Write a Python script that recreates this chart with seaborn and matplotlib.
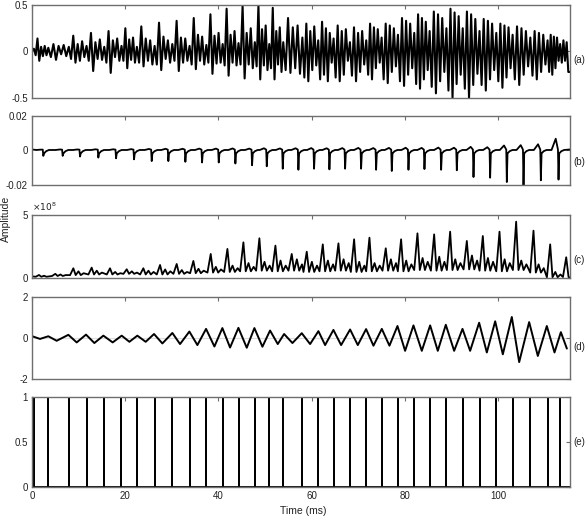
# %%
import numpy as np
import pandas as pd
import matplotlib
matplotlib.use("Agg")
import matplotlib.pyplot as plt
import seaborn as sns

# %% values
x_end = 115.4

# (e) pulse train, ms
pulses = [0.4, 3.5, 7.9, 11.7, 15.5, 19.2, 22.5, 26.3, 30.1, 33.8, 37.4, 40.9, 44.3, 47.8,
          50.9, 53.9, 58.0, 61.4, 64.7, 68.2, 71.7, 75.0, 78.5, 82.0, 85.3, 88.9, 92.4, 96.0,
          99.6, 103.1, 106.9, 110.6, 113.3]

# (a) waveform extrema, one list per pitch period
a_periods = [
    [0.03, -0.04, 0.14, -0.10, 0.05, -0.05, 0.06, -0.04],
    [0.04, -0.06, 0.08, -0.09, 0.06, -0.03, 0.07, -0.05],
    [0.05, -0.08, 0.17, -0.12, 0.08, -0.10, 0.11, -0.06],
    [0.06, -0.10, 0.20, -0.21, 0.10, -0.08, 0.13, -0.09],
    [0.05, -0.12, 0.22, -0.23, 0.12, -0.06, 0.14, -0.10],
    [0.06, -0.10, 0.25, -0.18, 0.13, -0.09, 0.15, -0.12],
    [0.05, -0.12, 0.27, -0.16, 0.14, -0.10, 0.12, -0.14],
    [0.06, -0.14, 0.31, -0.20, 0.16, -0.08, 0.12, -0.12],
    [0.08, -0.10, 0.33, -0.21, 0.15, -0.12, 0.14, -0.10],
    [0.06, -0.14, 0.36, -0.19, 0.18, -0.10, 0.16, -0.14],
    [0.07, -0.12, 0.40, -0.24, 0.17, -0.13, 0.20, -0.12],
    [0.08, -0.15, 0.46, -0.26, 0.18, -0.12, 0.22, -0.15],
    [0.09, -0.14, 0.49, -0.29, 0.20, -0.14, 0.25, -0.18],
    [0.10, -0.16, 0.50, -0.30, 0.24, -0.15, 0.28, -0.20],
    [0.08, -0.18, 0.47, -0.30, 0.22, -0.14, 0.26, -0.22],
    [0.10, -0.20, 0.36, -0.23, 0.26, -0.18, 0.28, -0.24],
    [0.15, -0.28, 0.30, -0.32, 0.22, -0.20, 0.27, -0.15],
    [0.12, -0.30, 0.32, -0.25, 0.25, -0.32, 0.20, -0.12],
    [0.14, -0.28, 0.28, -0.32, 0.22, -0.25, 0.24, -0.10],
    [0.10, -0.26, 0.26, -0.32, 0.20, -0.22, 0.22, -0.14],
    [0.12, -0.25, 0.30, -0.30, 0.26, -0.18, 0.24, -0.12],
    [0.15, -0.30, 0.30, -0.34, 0.28, -0.22, 0.25, -0.16],
    [0.18, -0.32, 0.36, -0.37, 0.33, -0.25, 0.30, -0.18],
    [0.20, -0.35, 0.40, -0.40, 0.36, -0.30, 0.32, -0.20],
    [0.22, -0.38, 0.43, -0.45, 0.40, -0.32, 0.36, -0.22],
    [0.25, -0.42, 0.46, -0.50, 0.42, -0.35, 0.38, -0.25],
    [0.25, -0.40, 0.43, -0.50, 0.40, -0.36, 0.35, -0.24],
    [0.22, -0.36, 0.35, -0.42, 0.33, -0.30, 0.30, -0.20],
    [0.20, -0.32, 0.30, -0.39, 0.28, -0.28, 0.26, -0.18],
    [0.18, -0.30, 0.27, -0.36, 0.25, -0.25, 0.22, -0.16],
    [0.15, -0.26, 0.22, -0.30, 0.20, -0.22, 0.18, -0.14],
    [0.12, -0.22, 0.18, -0.25, 0.16, -0.18, 0.15, -0.10],
    [0.08, -0.12, 0.12, -0.10, 0.10, -0.22],
]

# (b) negative spikes: time, depth, small positive bump before each
b_t = [2.43, 6.58, 10.30, 14.23, 18.03, 21.89, 25.68, 29.25, 32.90, 36.48, 40.06, 43.63,
       47.21, 50.36, 53.79, 57.15, 60.51, 63.80, 67.17, 70.60, 73.82, 77.18, 80.76, 84.19,
       87.77, 91.13, 94.71, 98.28, 101.86, 105.44, 109.16, 112.95]
b_depth = [-0.0032, -0.0032, -0.0036, -0.0042, -0.0046, -0.0052, -0.0062, -0.0062, -0.0066,
           -0.0070, -0.0070, -0.0076, -0.0086, -0.0092, -0.0106, -0.0112, -0.0106, -0.0110,
           -0.0106, -0.0106, -0.0112, -0.0119, -0.0112, -0.0108, -0.0112, -0.0115, -0.0154,
           -0.0158, -0.0183, -0.0202, -0.0173, -0.0169]
b_bump = [0.0004, 0.0005, 0.0005, 0.0006, 0.0006, 0.0007, 0.0008, 0.0009, 0.0009, 0.0010,
          0.0010, 0.0011, 0.0010, 0.0012, 0.0011, 0.0012, 0.0013, 0.0012, 0.0013, 0.0014,
          0.0013, 0.0014, 0.0015, 0.0014, 0.0016, 0.0015, 0.0020, 0.0018, 0.0028, 0.0030,
          0.0035, 0.0067]

# (c) x1e8: peak time, peak, trough, secondary bumps
c_t = [1.5, 5.0, 8.87, 12.8, 16.74, 20.32, 23.89, 27.47, 31.04, 34.62, 38.34, 41.92, 45.35,
       48.78, 52.22, 55.72, 58.94, 62.38, 65.74, 69.10, 72.39, 75.89, 79.18, 82.69, 86.27,
       89.70, 93.28, 96.71, 100.29, 103.86, 107.58, 111.16, 114.6]
c_peak = [0.26, 0.35, 0.79, 0.84, 0.79, 0.71, 0.79, 1.05, 1.13, 1.37, 1.92, 2.32, 2.84, 3.16,
          2.58, 1.92, 2.10, 2.68, 2.76, 3.08, 3.21, 2.37, 3.08, 3.55, 3.47, 3.68, 2.95, 3.34,
          3.68, 4.47, 3.76, 2.68, 1.66]
c_low = [0.12, 0.18, 0.25, 0.30, 0.30, 0.35, 0.30, 0.30, 0.35, 0.40, 0.45, 0.50, 0.55, 0.60,
         0.55, 0.60, 0.50, 0.55, 0.60, 0.50, 0.55, 0.60, 0.55, 0.65, 0.60, 0.65, 0.70, 0.60,
         0.55, 0.65, 0.45, 0.08, 0.10]
c_mid = [0.20, 0.30, 0.55, 0.60, 0.50, 0.55, 0.60, 0.70, 0.65, 0.75, 0.90, 1.00, 1.20, 1.30,
         1.40, 1.50, 1.30, 1.40, 1.50, 1.30, 1.20, 1.50, 1.40, 1.60, 1.70, 1.50, 1.80, 1.60,
         1.50, 1.40, 1.10, 0.50, 0.00]
c_mid2 = [0.15, 0.25, 0.40, 0.45, 0.40, 0.45, 0.50, 0.55, 0.50, 0.60, 0.70, 0.80, 0.90, 1.00,
          1.00, 1.10, 1.00, 1.10, 1.20, 1.00, 1.00, 1.20, 1.10, 1.30, 1.30, 1.20, 1.40, 1.30,
          1.20, 1.10, 0.80, 0.30, 0.00]

# (d) extrema of the filtered signal
d_t = [0.07, 1.72, 3.5, 5.29, 7.80, 9.59, 11.59, 13.38, 15.31, 17.31, 19.24, 20.89, 22.60,
       24.39, 26.18, 27.97, 30.11, 31.76, 33.76, 35.48, 37.34, 39.13, 40.84, 42.49, 44.28,
       46.07, 47.71, 49.43, 51.07, 52.72, 54.08, 55.87, 57.87, 59.66, 61.44, 62.88, 64.66,
       66.31, 68.24, 69.89, 71.67, 73.25, 75.04, 76.68, 78.40, 80.04, 81.83, 83.62, 85.41,
       87.05, 88.77, 90.56, 92.35, 93.99, 95.92, 97.57, 99.36, 101.0, 102.93, 104.51, 106.65,
       108.51, 110.44, 112.09, 113.45, 114.74]
d_v = [0.10, -0.03, 0.10, -0.12, 0.17, -0.20, 0.18, -0.23, 0.13, -0.20, 0.13, -0.17, 0.13,
       -0.17, 0.21, -0.25, 0.26, -0.28, 0.33, -0.33, 0.46, -0.40, 0.50, -0.45, 0.51, -0.46,
       0.50, -0.41, 0.38, -0.28, 0.21, -0.23, 0.25, -0.28, 0.35, -0.33, 0.41, -0.33, 0.43,
       -0.33, 0.45, -0.36, 0.46, -0.36, 0.60, -0.61, 0.63, -0.61, 0.63, -0.61, 0.66, -0.61,
       0.46, -0.61, 0.76, -0.69, 0.83, -0.78, 1.04, -1.16, 0.79, -0.86, 0.60, -0.69, 0.30,
       -0.50]

# %% build the line tables
ta, va = [0.0], [0.0]
for k, vals in enumerate(a_periods):
    start = pulses[k]
    stop = pulses[k + 1] if k + 1 < len(pulses) else x_end
    n = len(vals)
    for j, v in enumerate(vals):
        ta.append(start + (stop - start) * j / n)
        va.append(v)
ta.append(x_end)
va.append(-0.22)
df_a = pd.DataFrame({"t": ta, "v": va})

tb, vb = [0.0], [0.0005]
for t, d, bump in zip(b_t, b_depth, b_bump):
    tb += [t - 1.5, t - 0.6, t - 0.12, t, t + 0.15, t + 0.6, t + 1.2]
    vb += [0.0002, bump, 0.0004, d, -0.0018, -0.0005, 0.0002]
tb.append(x_end)
vb.append(0.0005)
df_b = pd.DataFrame({"t": tb, "v": vb})

tc, vc = [0.0], [0.15]
for t, p, lo, mid, mid2 in zip(c_t, c_peak, c_low, c_mid, c_mid2):
    tc += [t - 0.7, t, t + 0.5, t + 1.1, t + 1.6, t + 2.2]
    vc += [lo, p, lo, mid, lo, mid2]
df_c = pd.DataFrame({"t": tc, "v": vc})

df_d = pd.DataFrame({"t": d_t, "v": d_v})

te, ve = [0.0], [0.0]
for p in pulses:
    te += [p, p, p]
    ve += [0, 1, 0]
te.append(x_end)
ve.append(0)
df_e = pd.DataFrame({"t": te, "v": ve})

# %% figure
sns.set_style("white")
plt.rcParams["font.family"] = ["Liberation Sans", "DejaVu Sans"]
plt.rcParams["font.size"] = 7

fig = plt.figure(figsize=(5.86, 5.16), dpi=100)
left, width = 0.0546, 0.918
rects = [
    (0.8101, 0.1802),
    (0.6415, 0.1343),
    (0.4607, 0.1227),
    (0.2649, 0.1589),
    (0.0556, 0.1744),
]
frames = [df_a, df_b, df_c, df_d, df_e]
widths = [1.5, 1.3, 1.3, 1.4, 1.3]
ylims = [(-0.5, 0.5), (-0.02, 0.02), (0, 5), (-2, 2), (0, 1)]
yticks = [[-0.5, 0, 0.5], [-0.02, 0, 0.02], [0, 5], [-2, 0, 2], [0, 0.5, 1]]
ylabels = [["-0.5", "0", "0.5"], ["-0.02", "0", "0.02"], ["0", "5"], ["-2", "0", "2"],
           ["0", "0.5", "1"]]
tags = ["(a)", "(b)", "(c)", "(d)", "(e)"]
tag_y = [0.41, 0.336, 0.29, 0.40, 0.5]

spine_col = "#6e6e6e"
for i, (bottom, h) in enumerate(rects):
    ax = fig.add_axes([left, bottom, width, h])
    if i == 3:
        ax.axhline(0, color="#dddddd", lw=0.8, zorder=0)
    sns.lineplot(data=frames[i], x="t", y="v", ax=ax, color="black", lw=widths[i],
                 sort=False, estimator=None, solid_joinstyle="round")
    ax.set_xlim(0, x_end)
    ax.set_ylim(*ylims[i])
    ax.set_yticks(yticks[i])
    ax.set_yticklabels(ylabels[i])
    ax.set_xticks([0, 20, 40, 60, 80, 100])
    if i == 4:
        ax.set_xticklabels(["0", "20", "40", "60", "80", "100"])
    else:
        ax.set_xticklabels([])
    ax.set_xlabel("")
    ax.set_ylabel("")
    ax.tick_params(direction="in", length=3, width=0.8, color=spine_col,
                   top=True, right=True, labelsize=7, pad=3, colors="#222222")
    for s in ax.spines.values():
        s.set_color(spine_col)
        s.set_linewidth(1.0)
    ax.text(1.006, tag_y[i], tags[i], transform=ax.transAxes, va="center", ha="left",
            fontsize=7, color="#222222")
    if i == 2:
        ax.text(0.0, 1.03, r"$\times10^{8}$", transform=ax.transAxes, va="bottom",
                ha="left", fontsize=6.5, color="#222222")

fig.text(0.010, 1 - 219 / 516, "Amplitude", rotation=90, va="center", ha="center",
         fontsize=7.5, color="#222222")
fig.text(303 / 586, 1 - 511 / 516, "Time (ms)", va="center", ha="center",
         fontsize=7.5, color="#222222")

plt.savefig("out.png", dpi=100)
